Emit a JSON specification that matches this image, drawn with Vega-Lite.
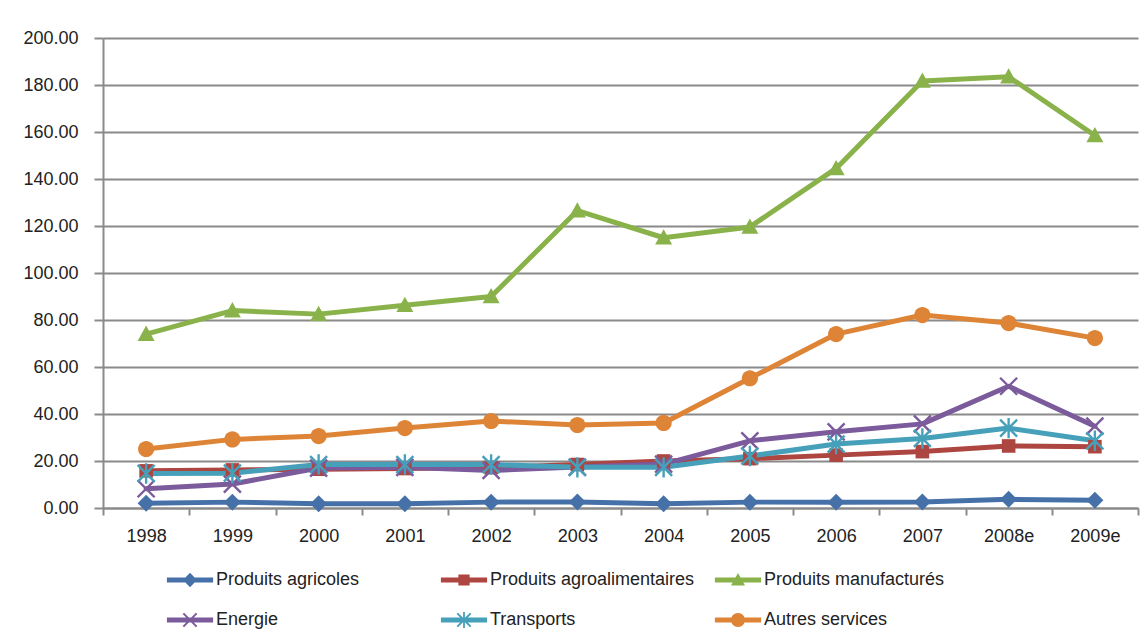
{
  "$schema": "https://vega.github.io/schema/vega-lite/v6.json",
  "autosize": {"type": "none"},
  "width": 1035,
  "height": 470,
  "padding": {"left": 103, "top": 38, "right": 8, "bottom": 136},
  "background": "white",
  "config": {
    "view": {"stroke": null},
    "font": "Liberation Sans",
    "axis": {"labelFont": "Liberation Sans", "labelColor": "#222222"},
    "legend": {"labelFont": "Liberation Sans"}
  },
  "data": {
    "values": [
      {"year": "1998", "series": "Produits agricoles", "value": 2.0},
      {"year": "1999", "series": "Produits agricoles", "value": 2.5},
      {"year": "2000", "series": "Produits agricoles", "value": 1.8},
      {"year": "2001", "series": "Produits agricoles", "value": 1.8},
      {"year": "2002", "series": "Produits agricoles", "value": 2.5},
      {"year": "2003", "series": "Produits agricoles", "value": 2.6},
      {"year": "2004", "series": "Produits agricoles", "value": 1.8},
      {"year": "2005", "series": "Produits agricoles", "value": 2.5},
      {"year": "2006", "series": "Produits agricoles", "value": 2.5},
      {"year": "2007", "series": "Produits agricoles", "value": 2.6},
      {"year": "2008e", "series": "Produits agricoles", "value": 3.7},
      {"year": "2009e", "series": "Produits agricoles", "value": 3.3},
      {"year": "1998", "series": "Produits agroalimentaires", "value": 15.8},
      {"year": "1999", "series": "Produits agroalimentaires", "value": 16.2},
      {"year": "2000", "series": "Produits agroalimentaires", "value": 16.5},
      {"year": "2001", "series": "Produits agroalimentaires", "value": 16.8},
      {"year": "2002", "series": "Produits agroalimentaires", "value": 17.2},
      {"year": "2003", "series": "Produits agroalimentaires", "value": 18.5},
      {"year": "2004", "series": "Produits agroalimentaires", "value": 20.0},
      {"year": "2005", "series": "Produits agroalimentaires", "value": 21.0},
      {"year": "2006", "series": "Produits agroalimentaires", "value": 22.5},
      {"year": "2007", "series": "Produits agroalimentaires", "value": 24.0},
      {"year": "2008e", "series": "Produits agroalimentaires", "value": 26.4},
      {"year": "2009e", "series": "Produits agroalimentaires", "value": 26.1},
      {"year": "1998", "series": "Produits manufacturés", "value": 74.0},
      {"year": "1999", "series": "Produits manufacturés", "value": 84.0},
      {"year": "2000", "series": "Produits manufacturés", "value": 82.5},
      {"year": "2001", "series": "Produits manufacturés", "value": 86.3},
      {"year": "2002", "series": "Produits manufacturés", "value": 90.0},
      {"year": "2003", "series": "Produits manufacturés", "value": 126.5},
      {"year": "2004", "series": "Produits manufacturés", "value": 115.0},
      {"year": "2005", "series": "Produits manufacturés", "value": 119.6},
      {"year": "2006", "series": "Produits manufacturés", "value": 144.5},
      {"year": "2007", "series": "Produits manufacturés", "value": 181.7},
      {"year": "2008e", "series": "Produits manufacturés", "value": 183.5},
      {"year": "2009e", "series": "Produits manufacturés", "value": 158.5},
      {"year": "1998", "series": "Energie", "value": 8.2},
      {"year": "1999", "series": "Energie", "value": 10.2},
      {"year": "2000", "series": "Energie", "value": 17.0},
      {"year": "2001", "series": "Energie", "value": 17.3},
      {"year": "2002", "series": "Energie", "value": 16.0},
      {"year": "2003", "series": "Energie", "value": 17.4},
      {"year": "2004", "series": "Energie", "value": 18.7},
      {"year": "2005", "series": "Energie", "value": 28.6},
      {"year": "2006", "series": "Energie", "value": 32.4},
      {"year": "2007", "series": "Energie", "value": 35.8},
      {"year": "2008e", "series": "Energie", "value": 51.8},
      {"year": "2009e", "series": "Energie", "value": 34.8},
      {"year": "1998", "series": "Transports", "value": 14.7},
      {"year": "1999", "series": "Transports", "value": 14.8},
      {"year": "2000", "series": "Transports", "value": 18.5},
      {"year": "2001", "series": "Transports", "value": 18.5},
      {"year": "2002", "series": "Transports", "value": 18.5},
      {"year": "2003", "series": "Transports", "value": 17.3},
      {"year": "2004", "series": "Transports", "value": 17.3},
      {"year": "2005", "series": "Transports", "value": 22.1},
      {"year": "2006", "series": "Transports", "value": 27.2},
      {"year": "2007", "series": "Transports", "value": 29.6},
      {"year": "2008e", "series": "Transports", "value": 34.0},
      {"year": "2009e", "series": "Transports", "value": 28.6},
      {"year": "1998", "series": "Autres services", "value": 25.1},
      {"year": "1999", "series": "Autres services", "value": 29.2},
      {"year": "2000", "series": "Autres services", "value": 30.6},
      {"year": "2001", "series": "Autres services", "value": 34.0},
      {"year": "2002", "series": "Autres services", "value": 37.0},
      {"year": "2003", "series": "Autres services", "value": 35.3},
      {"year": "2004", "series": "Autres services", "value": 36.2},
      {"year": "2005", "series": "Autres services", "value": 55.2},
      {"year": "2006", "series": "Autres services", "value": 74.0},
      {"year": "2007", "series": "Autres services", "value": 82.1},
      {"year": "2008e", "series": "Autres services", "value": 78.7},
      {"year": "2009e", "series": "Autres services", "value": 72.3}
    ]
  },
  "encoding": {
    "x": {
      "field": "year", "type": "ordinal", "bandPosition": 0.5,
      "scale": {"type": "band", "paddingInner": 0, "paddingOuter": 0,
        "domain": ["1998","1999","2000","2001","2002","2003","2004","2005","2006","2007","2008e","2009e"]},
      "axis": {"title": null, "labelAngle": 0, "labelFontSize": 18, "labelPadding": 12,
        "tickBand": "extent", "tickSize": 7, "tickWidth": 2, "tickColor": "#8a8a8a",
        "domainColor": "#8a8a8a", "domainWidth": 2, "grid": false}
    },
    "y": {
      "field": "value", "type": "quantitative",
      "scale": {"domain": [0, 200], "nice": false, "zero": true},
      "axis": {"title": null, "values": [0,20,40,60,80,100,120,140,160,180,200], "format": ".2f",
        "labelFontSize": 18, "labelPadding": 16, "tickSize": 9, "tickWidth": 2, "tickColor": "#8a8a8a",
        "domainColor": "#8a8a8a", "domainWidth": 2, "grid": true, "gridColor": "#8a8a8a", "gridWidth": 2}
    },
    "color": {
      "field": "series", "type": "nominal",
      "scale": {
        "domain": ["Produits agricoles","Produits agroalimentaires","Produits manufacturés","Energie","Transports","Autres services"],
        "range": ["#4671A8","#AD4540","#8AB24A","#7B5B9B","#47A0B9","#DE8436"]
      },
      "legend": null
    }
  },
  "layer": [
    {
      "mark": {"type": "line", "strokeWidth": 5, "strokeJoin": "round", "strokeCap": "round"}
    },
    {
      "mark": {"type": "point", "filled": true, "opacity": 1, "size": 289},
      "encoding": {
        "shape": {
          "field": "series", "type": "nominal", "legend": null,
          "scale": {
            "domain": ["Produits agricoles","Produits agroalimentaires","Produits manufacturés","Energie","Transports","Autres services"],
            "range": [
              "M0,-1L1,0L0,1L-1,0Z",
              "M-0.8,-0.8H0.8V0.8H-0.8Z",
              "M0,-1L1,0.8H-1Z",
              "M-0.9,-1.1L1.1,0.9L0.9,1.1L-1.1,-0.9Z M0.9,-1.1L1.1,-0.9L-0.9,1.1L-1.1,0.9Z",
              "M-0.9,-1.1L1.1,0.9L0.9,1.1L-1.1,-0.9Z M0.9,-1.1L1.1,-0.9L-0.9,1.1L-1.1,0.9Z M-0.14,-1.2H0.14V1.2H-0.14Z",
              "M-0.95,0A0.95,0.95 0 1,1 0.95,0A0.95,0.95 0 1,1 -0.95,0Z"
            ]
          }
        }
      }
    },
    {
      "transform": [{"filter": "false"}],
      "mark": {"type": "point", "filled": true, "opacity": 1, "size": 196},
      "encoding": {
        "color": {
          "field": "series", "type": "nominal",
          "legend": {
            "title": null, "orient": "none", "legendX": 78, "legendY": 533, "direction": "horizontal",
            "columns": 3, "gridAlign": "all", "columnPadding": 19, "rowPadding": 22, "symbolSize": 196,
            "labelFontSize": 18, "labelColor": "#222222", "labelOffset": 17, "labelLimit": 400, "padding": 0
          }
        },
        "shape": {
          "field": "series", "type": "nominal",
          "legend": {
            "title": null, "orient": "none", "legendX": 78, "legendY": 533, "direction": "horizontal",
            "columns": 3, "gridAlign": "all", "columnPadding": 19, "rowPadding": 22, "symbolSize": 196,
            "labelFontSize": 18, "labelColor": "#222222", "labelOffset": 17, "labelLimit": 400, "padding": 0
          },
          "scale": {
            "domain": ["Produits agricoles","Produits agroalimentaires","Produits manufacturés","Energie","Transports","Autres services"],
            "range": [
              "M-3.3,-0.35H3.3V0.35H-3.3Z M0,-1.05L1,0L0,1.05L-1,0Z",
              "M-3.3,-0.35H3.3V0.35H-3.3Z M-0.8,-0.8H0.8V0.8H-0.8Z",
              "M-3.3,-0.35H3.3V0.35H-3.3Z M0,-1L1,0.8H-1Z",
              "M-3.3,-0.35H3.3V0.35H-3.3Z M-0.85,-1.05L1.05,0.85L0.85,1.05L-1.05,-0.85Z M0.85,-1.05L1.05,-0.85L-0.85,1.05L-1.05,0.85Z",
              "M-3.3,-0.35H3.3V0.35H-3.3Z M-0.85,-1.05L1.05,0.85L0.85,1.05L-1.05,-0.85Z M0.85,-1.05L1.05,-0.85L-0.85,1.05L-1.05,0.85Z M-0.13,-1.15H0.13V1.15H-0.13Z",
              "M-3.3,-0.35H3.3V0.35H-3.3Z M-1,0A1,1 0 1,1 1,0A1,1 0 1,1 -1,0Z"
            ]
          }
        }
      }
    }
  ],
  "resolve": {"scale": {"shape": "independent"}, "legend": {"shape": "independent", "color": "independent"}}
}
